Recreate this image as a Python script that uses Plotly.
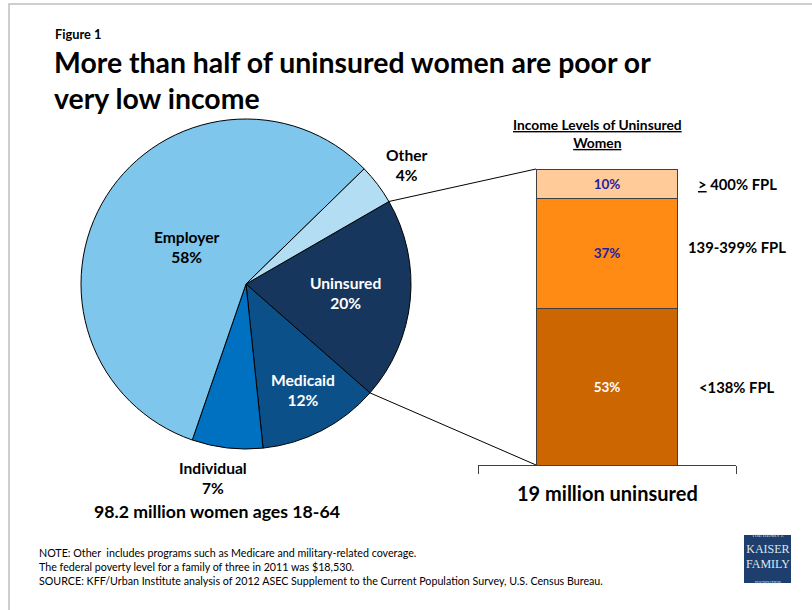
import math
import plotly.graph_objects as go

# ---------------- data ----------------
pie_labels = ["Uninsured", "Medicaid", "Individual", "Employer", "Other"]
pie_values = [20, 12, 7, 58, 4]
pie_colors = ["#17365D", "#0B5089", "#0070C0", "#7EC6EC", "#B3DDF3"]

income_labels = ["<138% FPL", "139-399% FPL", "<u>></u> 400% FPL"]
income_values = [53, 37, 10]
income_colors = ["#CC6600", "#FF8A14", "#FFCC99"]
income_text_colors = ["#FFFFFF", "#1F1FA0", "#1F1FA0"]
bar_category = ["Uninsured women"]

W, H = 812, 610
FONT = "Lato"


def px(x):
    return x / W


def py(y):
    return 1 - y / H


fig = go.Figure()

# ---------------- pie ----------------
pie_cx, pie_cy, pie_r = 246, 284, 165
pie_rotation = 60
fig.add_trace(go.Pie(
    labels=pie_labels, values=pie_values, sort=False, direction="clockwise",
    rotation=pie_rotation,
    marker=dict(colors=pie_colors, line=dict(color="#000000", width=1)),
    textinfo="none", hoverinfo="label+percent", showlegend=False,
    domain=dict(x=[px(pie_cx - pie_r), px(pie_cx + pie_r)],
                y=[py(pie_cy + pie_r), py(pie_cy - pie_r)]),
))

# ---------------- stacked bar ----------------
bar_width = 0.55
for lab, val, col, tcol in zip(income_labels, income_values, income_colors, income_text_colors):
    fig.add_trace(go.Bar(
        x=bar_category, y=[val], name=lab, width=bar_width,
        marker=dict(color=col, line=dict(color="#3F3F3F", width=1)),
        text=[f"<b>{val}%</b>"], textposition="inside", insidetextanchor="middle",
        textangle=0, textfont=dict(color=tcol, size=13.5, family=FONT),
        hoverinfo="name+y", showlegend=False,
    ))

ax_x0, ax_x1 = 478, 736
ax_y0, ax_y1 = 465, 169
fig.update_layout(
    barmode="stack",
    width=W, height=H, margin=dict(l=0, r=0, t=0, b=0),
    paper_bgcolor="white", plot_bgcolor="rgba(0,0,0,0)",
    font=dict(family=FONT, color="#000000"),
    xaxis=dict(domain=[px(ax_x0), px(ax_x1)], range=[-0.5, 0.5], type="category",
               showline=True, linecolor="#404040", linewidth=1,
               ticks="outside", tickson="boundaries", ticklen=8, tickcolor="#404040",
               showticklabels=False, showgrid=False, zeroline=False, fixedrange=True),
    yaxis=dict(domain=[py(ax_y0), py(ax_y1)], range=[0, 100], visible=False,
               fixedrange=True),
)

# ---------------- connector lines (computed from pie geometry) ----------------
total = sum(pie_values)
a_start = math.radians(pie_rotation)
a_end = math.radians(pie_rotation + 360 * pie_values[0] / total)


def pie_point(a):
    return pie_cx + pie_r * math.sin(a), pie_cy - pie_r * math.cos(a)


bar_left_px = ax_x0 + (ax_x1 - ax_x0) * (0.5 - bar_width / 2)
s1 = pie_point(a_start)
s2 = pie_point(a_end)
shapes = [
    dict(type="line", xref="paper", yref="paper", x0=px(s1[0]), y0=py(s1[1]),
         x1=px(bar_left_px), y1=py(ax_y1), line=dict(color="#000000", width=1)),
    dict(type="line", xref="paper", yref="paper", x0=px(s2[0]), y0=py(s2[1]),
         x1=px(bar_left_px), y1=py(ax_y0), line=dict(color="#000000", width=1)),
    # frame
    dict(type="rect", xref="paper", yref="paper", x0=px(9), y0=py(630), x1=px(830), y1=py(4),
         line=dict(color="#BFBFBF", width=1.5), fillcolor="rgba(0,0,0,0)"),
    # logo
    dict(type="rect", xref="paper", yref="paper", x0=px(744), y0=py(583), x1=px(791), y1=py(535),
         line=dict(width=0), fillcolor="#1E3F6E"),
]

ann = []


def text(x, y, s, size, color="#000000", anchor="center", family=FONT, yref="paper", yshift=0):
    ann.append(dict(x=px(x), y=(py(y) if yref == "paper" else y), xref="paper", yref=yref,
                    text=s, showarrow=False, xanchor=anchor, yanchor="middle",
                    font=dict(size=size, color=color, family=family), yshift=yshift))


# titles
text(53, 34, "<b>Figure 1</b>", 12.8, anchor="left")
text(52, 62, "<b>More than half of uninsured women are poor or</b>", 28.4, anchor="left")
text(52, 98, "<b>very low income</b>", 28.4, anchor="left")

# pie labels
pie_label_pos = {
    "Other": (407, 165, "#000000"),
    "Employer": (187, 247, "#000000"),
    "Uninsured": (345, 293, "#FFFFFF"),
    "Medicaid": (303, 390, "#FFFFFF"),
    "Individual": (213, 478, "#000000"),
}
for lab, val in zip(pie_labels, pie_values):
    x, y, c = pie_label_pos[lab]
    text(x, y, f"<b>{lab}<br>{val}%</b>", 15.6, color=c)

text(217, 511, "<b>98.2 million women ages 18-64</b>", 17.7)

# bar header
text(597, 134, "<b><u>Income Levels of Uninsured</u><br><u>Women</u></b>", 13.8)

# bar side labels
cum = 0
shifts = [0, 6, 0]
for lab, val, sh in zip(income_labels, income_values, shifts):
    mid = cum + val / 2
    cum += val
    text(737, mid, f"<b>{lab}</b>", 14.8, yref="y", yshift=sh)

text(607, 493, "<b>19 million uninsured</b>", 20)

# notes
notes = ("NOTE: Other  includes programs such as Medicare and military-related coverage.<br>"
         "The federal poverty level for a family of three in 2011 was $18,530.<br>"
         "SOURCE: KFF/Urban Institute analysis of 2012 ASEC Supplement to the Current Population Survey, U.S. Census Bureau.")
ann.append(dict(x=px(37), y=py(566), xref="paper", yref="paper", text=notes, showarrow=False,
                xanchor="left", yanchor="middle", align="left",
                font=dict(size=10.7, family=FONT, color="#000000")))

# logo text
logo = ("<span style='font-size:5px'>THE HENRY J.</span><br>KAISER<br>FAMILY<br>"
        "<span style='font-size:4px'>FOUNDATION</span>")
ann.append(dict(x=px(767.5), y=py(559), xref="paper", yref="paper", text=logo, showarrow=False,
                xanchor="center", yanchor="middle", align="center",
                font=dict(size=12, family="Liberation Serif", color="#DDE6F2")))

fig.update_layout(shapes=shapes, annotations=ann)
fig.write_html("out.html")
